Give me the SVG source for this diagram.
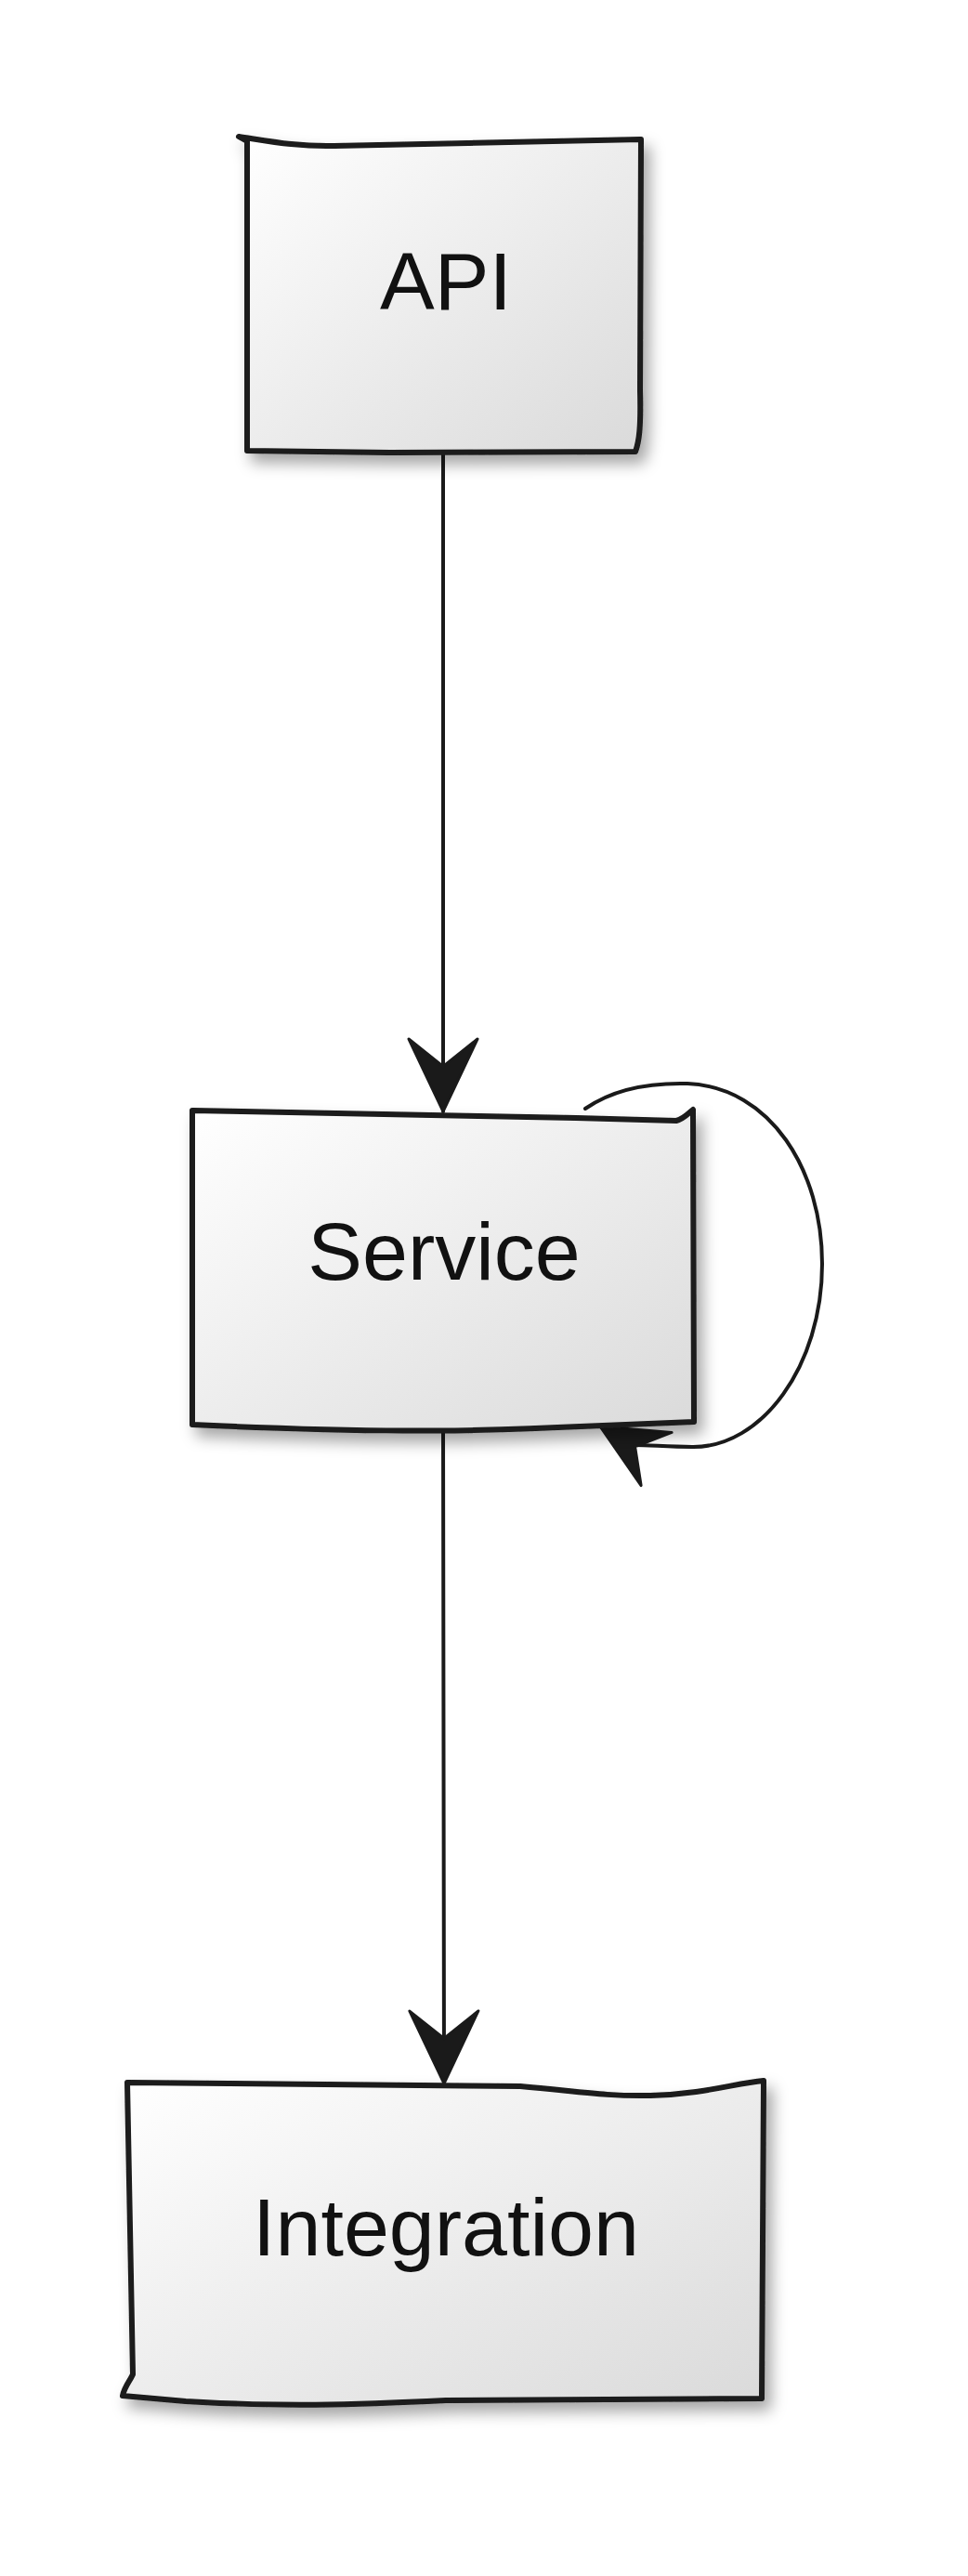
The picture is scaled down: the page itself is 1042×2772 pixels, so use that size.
<svg xmlns="http://www.w3.org/2000/svg" width="1042" height="2772" viewBox="0 0 1042 2772">
  <style>
    .box { fill: url(#boxGrad); stroke: #1a1a1a; stroke-width: 6; stroke-linejoin: round; stroke-linecap: round; filter: url(#shadow); }
    .label { font-family: "Liberation Sans", Arial, sans-serif; font-size: 88px; fill: #111; text-anchor: middle; }
    .edge { fill: none; stroke: #1a1a1a; stroke-width: 4; stroke-linecap: round; }
    .head { fill: #1a1a1a; stroke: #1a1a1a; stroke-width: 3; stroke-linejoin: round; }
  </style>
  <defs>
    <linearGradient id="boxGrad" x1="0" y1="0" x2="1" y2="1">
      <stop offset="0" stop-color="#ffffff"/>
      <stop offset="1" stop-color="#dadada"/>
    </linearGradient>
    <filter id="shadow" x="-10%" y="-10%" width="130%" height="130%">
      <feDropShadow dx="7" dy="10" stdDeviation="8" flood-color="#000" flood-opacity="0.35"/>
    </filter>
    <marker id="arrow" markerUnits="userSpaceOnUse" viewBox="-90 -45 95 90" markerWidth="95" markerHeight="90" refX="0" refY="0" orient="auto" overflow="visible">
      <path class="head" d="M0,0 L-78,-37 L-50,-2 L-48,0 L-50,2 L-78,37 Z"/>
    </marker>
    <marker id="arrowLoop" markerUnits="userSpaceOnUse" viewBox="-90 -45 95 90" markerWidth="95" markerHeight="90" refX="0" refY="0" orient="-150" overflow="visible">
      <path class="head" d="M0,0 L-70,-33 L-45,-2 L-43,0 L-45,2 L-70,33 Z"/>
    </marker>
  </defs>

  <g id="connectors">
    <path id="edge-api-service" class="edge" d="M477,487 L477,1196" marker-end="url(#arrow)"/>
    <path id="edge-service-integration" class="edge" d="M477,1536 L478,2242" marker-end="url(#arrow)"/>
    <path id="edge-service-self" class="edge" d="M630,1193 C660,1172 700,1165 740,1166 C830,1170 885,1260 885,1360 C885,1470 820,1558 745,1557 C720,1557 700,1555 684,1555 L646,1535" marker-end="url(#arrowLoop)"/>
  </g>

  <g id="node-api">
    <path class="box" d="M257,147 C290,152 320,158 360,157 L690,150 L689,420 C690,460 688,475 684,486 L420,487 L266,485 L266,152 Z"/>
    <text class="label" x="480" y="333">API</text>
  </g>

  <g id="node-service">
    <path class="box" d="M207,1195 L620,1203 L728,1206 C736,1204 741,1198 746,1194 L747,1530 L600,1536 C480,1542 360,1540 207,1533 Z"/>
    <text class="label" x="478" y="1377">Service</text>
  </g>

  <g id="node-integration">
    <path class="box" d="M137,2241 L560,2245 C620,2250 650,2256 700,2255 C760,2253 790,2242 822,2239 L820,2581 L480,2583 C380,2588 300,2590 200,2584 L132,2578 C134,2568 140,2562 143,2555 L137,2241 Z"/>
    <text class="label" x="480" y="2427">Integration</text>
  </g>
</svg>
